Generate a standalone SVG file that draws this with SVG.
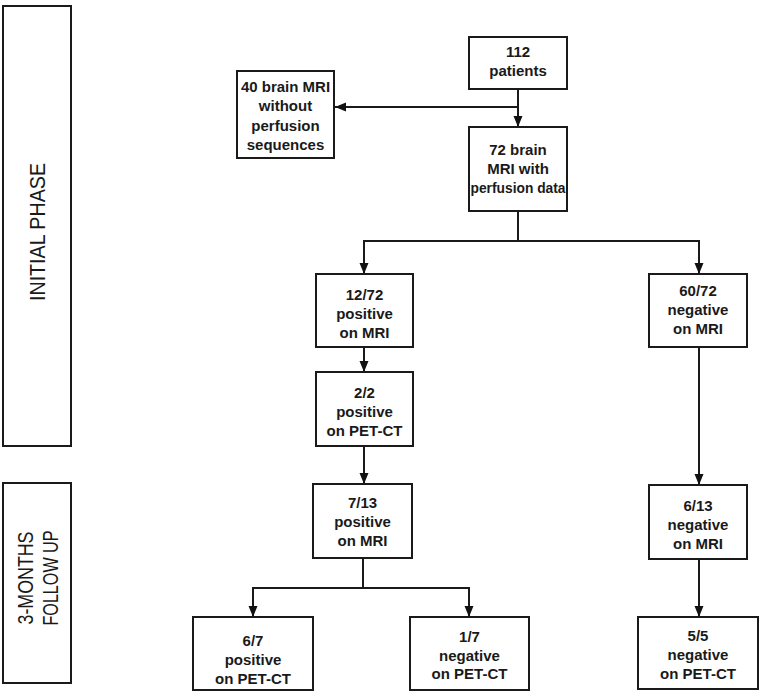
<svg xmlns="http://www.w3.org/2000/svg" width="760" height="694" viewBox="0 0 760 694">
<defs>
<marker id="ah" markerUnits="userSpaceOnUse" markerWidth="12" markerHeight="12" viewBox="0 0 12 12" refX="11" refY="6" orient="auto">
<path d="M0,1.5 L11,6 L0,10.5 Z" fill="#111"/>
</marker>
<style>
.box{fill:#fff;stroke:#1a1a1a;stroke-width:2}
.t{font-family:"Liberation Sans",Arial,sans-serif;font-weight:bold;font-size:15px;fill:#1a1a1a;text-anchor:middle}
.ph{font-family:"Liberation Sans",Arial,sans-serif;font-size:22px;fill:#1a1a1a;text-anchor:middle}
.c{fill:none;stroke:#1a1a1a;stroke-width:2}
.a{marker-end:url(#ah)}
</style>
</defs>
<rect width="760" height="694" fill="#fff"/>
<g id="phase-initial">
<rect class="box" x="3" y="6" width="68" height="440"/>
<text class="ph" transform="translate(44.5,232) rotate(-90)" textLength="138" lengthAdjust="spacingAndGlyphs">INITIAL PHASE</text>
</g>
<g id="phase-followup">
<rect class="box" x="3" y="483" width="68" height="200"/>
<text class="ph" transform="translate(33,578) rotate(-90)" textLength="93" lengthAdjust="spacingAndGlyphs">3-MONTHS</text>
<text class="ph" transform="translate(58,578) rotate(-90)" textLength="95" lengthAdjust="spacingAndGlyphs">FOLLOW UP</text>
</g>
<g id="connectors">
<line class="c a" x1="518" y1="89" x2="518" y2="127"/>
<line class="c a" x1="518" y1="107" x2="335" y2="107"/>
<polyline class="c" points="518,211 518,241"/>
<line class="c" x1="363" y1="241" x2="700" y2="241"/>
<line class="c a" x1="364" y1="240" x2="364" y2="274"/>
<line class="c a" x1="699" y1="240" x2="699" y2="274"/>
<line class="c a" x1="364" y1="347" x2="364" y2="372"/>
<line class="c a" x1="364" y1="446" x2="364" y2="484"/>
<line class="c a" x1="699" y1="347" x2="699" y2="485"/>
<line class="c" x1="363" y1="558" x2="363" y2="588"/>
<line class="c" x1="252" y1="588" x2="470" y2="588"/>
<line class="c a" x1="253" y1="587" x2="253" y2="617"/>
<line class="c a" x1="469" y1="587" x2="469" y2="617"/>
<line class="c a" x1="699" y1="559" x2="699" y2="617"/>
</g>
<g id="n-112">
<rect class="box" x="469" y="37" width="98" height="52"/>
<text class="t" x="518" y="57">112</text>
<text class="t" x="518" y="76">patients</text>
</g>
<g id="n-40">
<rect class="box" x="237" y="71" width="97" height="87"/>
<text class="t" x="285.5" y="92">40 brain MRI</text>
<text class="t" x="285.5" y="111">without</text>
<text class="t" x="285.5" y="131">perfusion</text>
<text class="t" x="285.5" y="150">sequences</text>
</g>
<g id="n-72">
<rect class="box" x="469" y="127" width="98" height="84"/>
<text class="t" x="518" y="155">72 brain</text>
<text class="t" x="518" y="174">MRI with</text>
<text class="t" x="518" y="193" textLength="95" lengthAdjust="spacingAndGlyphs">perfusion data</text>
</g>
<g id="n-12-72">
<rect class="box" x="316" y="274" width="97" height="73"/>
<text class="t" x="364.5" y="300">12/72</text>
<text class="t" x="364.5" y="319">positive</text>
<text class="t" x="364.5" y="338">on MRI</text>
</g>
<g id="n-60-72">
<rect class="box" x="649" y="274" width="98" height="73"/>
<text class="t" x="698" y="296">60/72</text>
<text class="t" x="698" y="315">negative</text>
<text class="t" x="698" y="334">on MRI</text>
</g>
<g id="n-2-2">
<rect class="box" x="316" y="372" width="97" height="74"/>
<text class="t" x="364.5" y="398">2/2</text>
<text class="t" x="364.5" y="417">positive</text>
<text class="t" x="364.5" y="436">on PET-CT</text>
</g>
<g id="n-7-13">
<rect class="box" x="313" y="484" width="99" height="74"/>
<text class="t" x="362.5" y="508">7/13</text>
<text class="t" x="362.5" y="527">positive</text>
<text class="t" x="362.5" y="546">on MRI</text>
</g>
<g id="n-6-13">
<rect class="box" x="649" y="485" width="98" height="74"/>
<text class="t" x="698" y="511">6/13</text>
<text class="t" x="698" y="530">negative</text>
<text class="t" x="698" y="549">on MRI</text>
</g>
<g id="n-6-7">
<rect class="box" x="193" y="617" width="120" height="73"/>
<text class="t" x="253" y="646">6/7</text>
<text class="t" x="253" y="665">positive</text>
<text class="t" x="253" y="684">on PET-CT</text>
</g>
<g id="n-1-7">
<rect class="box" x="410" y="617" width="119" height="73"/>
<text class="t" x="469.5" y="642">1/7</text>
<text class="t" x="469.5" y="661">negative</text>
<text class="t" x="469.5" y="679">on PET-CT</text>
</g>
<g id="n-5-5">
<rect class="box" x="638" y="617" width="120" height="72"/>
<text class="t" x="698" y="641">5/5</text>
<text class="t" x="698" y="660">negative</text>
<text class="t" x="698" y="679">on PET-CT</text>
</g>
</svg>
